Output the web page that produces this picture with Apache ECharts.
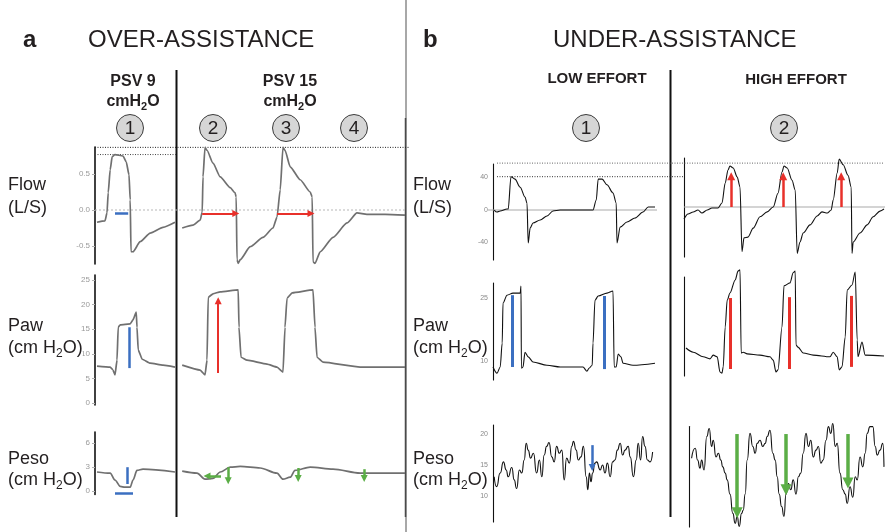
<!DOCTYPE html>
<html>
<head>
<meta charset="utf-8">
<script src="https://cdn.jsdelivr.net/npm/echarts@6/dist/echarts.min.js"></script>
<style>
html, body { margin: 0; padding: 0; background: #fff; }
#chart { width: 887px; height: 532px; }
</style>
</head>
<body>
<div id="chart"></div>
<script>
// ---------- Waveform data: [time (s), value] ----------
// a) Over-assistance, PSV 9 and PSV 15 cmH2O
const overFlowPsv9 = [[0.05,-0.17],[0.25,-0.15],[0.3,-0.04],[0.33,0.24],[0.38,0.56],[0.43,0.74],[0.5,0.77],[0.7,0.75],[0.78,0.67],[0.85,0.49],[0.88,0.14],[0.9,-0.58],[0.95,-0.58],[1.13,-0.44],[1.38,-0.32],[1.7,-0.24],[2.0,-0.17]];
const overFlowPsv15 = [[2.18,-0.25],[2.45,-0.21],[2.63,-0.14],[2.68,-0.03],[2.7,0.46],[2.75,0.87],[2.8,0.83],[2.95,0.65],[3.13,0.46],[3.38,0.31],[3.5,0.24],[3.53,0.18],[3.55,-0.69],[3.58,-0.74],[3.63,-0.69],[3.88,-0.51],[4.2,-0.38],[4.45,-0.25],[4.55,-0.1],[4.63,0.28],[4.7,0.87],[4.75,0.83],[4.88,0.6],[5.13,0.42],[5.38,0.25],[5.43,0.18],[5.45,-0.72],[5.5,-0.74],[5.63,-0.58],[5.95,-0.38],[6.3,-0.18],[6.55,-0.04],[6.8,-0.06],[7.25,-0.06],[7.75,-0.07]];
const overPawPsv9 = [[0.05,7.5],[0.38,7.3],[0.45,6.7],[0.5,5.7],[0.55,8.7],[0.58,15.4],[0.63,15.9],[0.88,16.1],[0.95,16.9],[1.03,18.5],[1.05,15.4],[1.08,10.8],[1.18,8.9],[1.38,8.1],[1.7,7.7],[2.0,7.3]];
const overPawPsv15 = [[2.18,7.7],[2.63,6.7],[2.75,5.7],[2.8,8.7],[2.83,21.5],[2.95,22.2],[3.13,22.6],[3.58,23.0],[3.6,15.4],[3.65,9.3],[3.8,8.7],[4.3,7.9],[4.55,7.3],[4.7,6.3],[4.75,15.4],[4.8,21.3],[4.93,22.4],[5.45,23.0],[5.5,15.4],[5.55,9.3],[5.7,8.3],[6.63,7.3],[7.75,7.3]];
const overPesoPsv9 = [[0.05,2.4],[0.38,2.25],[0.5,1.4],[0.63,0.6],[0.75,0.5],[0.88,0.5],[0.95,1.4],[1.05,2.6],[1.2,2.75],[2.0,2.4]];
const overPesoPsv15 = [[2.18,2.5],[2.55,2.25],[2.75,1.5],[2.95,1.6],[3.13,2.4],[3.38,3.0],[3.63,3.1],[4.13,2.9],[4.55,2.25],[4.7,1.5],[4.88,1.75],[5.0,2.6],[5.38,3.0],[5.95,2.75],[6.63,2.25],[7.75,2.25]];

// b) Under-assistance, low and high inspiratory effort
const lowFlow = [[0.03,0],[0.1,-2.5],[0.18,-1.2],[0.35,1.2],[0.38,1.2],[0.45,41],[0.55,38],[0.68,28],[0.8,16],[0.85,8.6],[0.88,-40.6],[0.93,-22],[1.0,-16],[1.18,-12.3],[1.35,-7.4],[1.5,-1.2],[1.68,0],[2.5,0],[2.58,12],[2.63,38],[2.73,38],[2.85,31],[3.0,21],[3.08,8.6],[3.1,-40.6],[3.18,-21],[3.35,-14.8],[3.55,-9.8],[3.75,-2.5],[3.88,3.7],[4.05,3.7]];
const highFlow = [[0,-14.8],[0.1,-8.6],[0.23,-6.2],[0.35,-3.7],[0.45,-7.4],[0.58,-3.7],[0.7,-1.2],[0.85,-1.2],[0.95,4.9],[1.03,29.5],[1.1,45.5],[1.15,50.5],[1.23,48],[1.33,37],[1.4,24.6],[1.45,-55],[1.5,-38],[1.6,-37],[1.73,-26],[1.9,-12],[2.08,-6],[2.23,0],[2.35,17],[2.45,43],[2.5,50.5],[2.58,48],[2.7,33],[2.78,21],[2.83,-57],[2.9,-43],[2.98,-32],[3.15,-22],[3.33,-11],[3.45,-6],[3.58,-7.4],[3.68,-3.7],[3.73,8.6],[3.83,42],[3.88,59],[3.98,52],[4.1,39],[4.18,24.6],[4.2,-57],[4.23,-43],[4.4,-32],[4.58,-22],[4.73,-12],[4.9,-5],[5.0,-2.5]];
const lowPaw = [[0,8.6],[0.1,7.1],[0.18,8.6],[0.23,14.3],[0.25,23.8],[0.35,25.7],[0.5,26.2],[0.68,26.2],[0.7,27.9],[0.71,8.3],[0.75,8.6],[0.8,12.1],[0.88,11],[1.0,9.8],[1.35,9],[1.68,8.6],[2.25,8.6],[2.35,7.6],[2.4,8.3],[2.48,9],[2.5,14.3],[2.55,24.5],[2.63,25.5],[2.85,26.2],[3.0,26.7],[3.03,8.6],[3.08,8.6],[3.13,11.7],[3.2,11],[3.25,9.5],[3.5,9],[4.05,9.5]];
const highPaw = [[0.05,13.1],[0.23,12.1],[0.48,11],[0.65,10.5],[0.73,11.4],[0.83,11],[0.9,7.4],[0.95,7.1],[0.98,8.6],[1.03,18.1],[1.08,24.5],[1.15,26.2],[1.28,29.3],[1.35,31.4],[1.4,31.7],[1.43,11.9],[1.48,12.1],[1.58,11.7],[1.9,11.4],[2.15,11],[2.23,10.2],[2.3,7.4],[2.35,7.9],[2.45,18.1],[2.5,27.9],[2.65,28.6],[2.73,31],[2.78,31.4],[2.8,13.8],[2.85,13.3],[2.98,11.9],[3.23,11.4],[3.65,11],[3.73,12.1],[3.83,11],[3.88,7.9],[3.95,8.6],[4.03,15.7],[4.08,26.9],[4.2,28.1],[4.28,31.2],[4.33,15],[4.35,11],[4.45,14.5],[4.53,11.4],[5.0,11.2]];
const lowPeso = [[0.03,13.1],[0.09,11.5],[0.18,13.7],[0.26,15.5],[0.33,14.2],[0.38,13.1],[0.47,14.6],[0.53,12.6],[0.59,11.2],[0.66,14.2],[0.72,13.7],[0.78,15.8],[0.83,18.5],[0.88,17.4],[0.94,16.1],[1.01,16.9],[1.09,13.7],[1.16,15.8],[1.22,13.1],[1.28,16.6],[1.34,18.0],[1.4,18.6],[1.47,16.3],[1.53,15.5],[1.59,18.0],[1.66,16.9],[1.72,17.4],[1.78,12.6],[1.84,16.1],[1.91,15.3],[1.97,18.0],[2.01,18.8],[2.08,17.4],[2.13,15.8],[2.2,16.3],[2.26,18.0],[2.33,13.1],[2.37,11.0],[2.41,13.7],[2.45,12.3],[2.49,13.7],[2.55,15.3],[2.59,15.5],[2.68,14.2],[2.74,15.0],[2.8,13.7],[2.86,15.3],[2.93,13.1],[2.99,15.5],[3.05,15.8],[3.11,17.4],[3.18,18.5],[3.24,16.6],[3.3,17.4],[3.38,18.0],[3.43,16.3],[3.51,13.1],[3.58,15.8],[3.63,18.5],[3.69,15.8],[3.74,19.6],[3.8,18.0],[3.86,15.8],[3.93,15.5],[3.99,17.1]];
const highPeso = [[0.19,16.1],[0.28,17.7],[0.34,15.8],[0.4,14.5],[0.44,15.8],[0.5,14.2],[0.57,19.6],[0.63,20.9],[0.69,18.0],[0.73,19.0],[0.8,16.3],[0.86,16.9],[0.92,15.8],[0.97,14.7],[1.03,13.7],[1.08,12.6],[1.15,10.3],[1.22,7.2],[1.28,5.6],[1.33,6.7],[1.38,5.1],[1.44,7.2],[1.48,7.7],[1.53,10.3],[1.58,15.8],[1.65,20.1],[1.72,18.0],[1.78,16.9],[1.83,18.5],[1.9,19.0],[1.97,18.0],[2.03,18.5],[2.08,19.6],[2.15,20.6],[2.22,16.9],[2.28,15.8],[2.33,13.1],[2.38,10.3],[2.44,8.3],[2.5,6.7],[2.55,10.3],[2.61,12.0],[2.67,11.0],[2.73,12.6],[2.8,10.3],[2.86,13.1],[2.92,13.7],[2.98,16.9],[3.05,20.1],[3.11,18.0],[3.17,19.0],[3.23,16.3],[3.3,17.4],[3.36,18.0],[3.42,15.3],[3.48,15.8],[3.55,19.0],[3.61,21.2],[3.67,20.1],[3.72,21.7],[3.78,18.0],[3.83,18.5],[3.9,13.7],[3.97,11.0],[4.03,10.3],[4.08,8.8],[4.15,11.5],[4.22,9.8],[4.28,13.1],[4.33,12.6],[4.4,16.3],[4.47,14.7],[4.53,16.9],[4.58,20.1],[4.65,21.2],[4.72,21.2],[4.78,18.0],[4.83,16.6],[4.9,17.4],[4.97,18.5],[5.0,14.7]];

// ---------- Annotation segments: [t1, v1, t2, v2] ----------
const psv9FlowBar = [[0.5,-0.05,0.83,-0.05]];
const psv15FlowArrows = [[2.68,-0.05,3.52,-0.05],[4.55,-0.05,5.4,-0.05]];
const psv9PawBar = [[0.85,15.4,0.85,7.1]];
const psv15PawArrow = [[3.08,6.1,3.08,20.8]];
const psv9PesoBars = [[0.8,3.0,0.8,0.9],[0.5,-0.25,0.95,-0.25]];
const psv15PesoArrows = [[3.15,1.9,2.8,1.9],[3.33,3.0,3.33,1.3],[5.08,2.9,5.08,1.6],[6.73,2.75,6.73,1.6]];
const lowPawBars = [[0.48,25.7,0.48,8.6],[2.78,25.5,2.78,8.1]];
const lowPesoArrow = [[2.48,18.2,2.48,14.6]];
const highFlowArrows = [[1.18,0,1.18,38],[2.48,0,2.48,38],[3.93,0,3.93,38]];
const highPawBars = [[1.15,25,1.15,8.1],[2.63,25.2,2.63,8.1],[4.18,25.5,4.18,8.6]];
const highPesoArrows = [[1.33,20,1.33,7.3],[2.55,20,2.55,11.0],[4.1,20,4.1,12.1]];

// ---------- Reference levels ----------
const psv15FlowPeak = 0.87;
const psv9FlowPeak = 0.77;
const lowFlowPeak = 41;
const highFlowRef = 54;

// ---------- Axis ticks ----------
const overFlowTicks = [-0.5, 0, 0.5];
const overPawTicks = [0, 5, 10, 15, 20, 25];
const overPesoTicks = [0, 3, 6];
const lowFlowTicks = [-40, 0, 40];
const lowPawTicks = [10, 25];
const lowPesoTicks = [10, 15, 20];

// ---------- Text ----------
const panelLetters = ['a', 'b'];
const panelTitles = ['OVER-ASSISTANCE', 'UNDER-ASSISTANCE'];
const overSettings = ['PSV 9', 'PSV 15'];
const effortLabels = ['LOW EFFORT', 'HIGH EFFORT'];
const rowNames = ['Flow', 'Paw', 'Peso'];
const rowUnits = ['(L/S)', '(cm H{sub|2}O)', '(cm H{sub|2}O)'];

const FONT = '"Liberation Sans", Arial, Helvetica, sans-serif';
const INK = '#231f20';
const TRACE_A = '#707070';
const TRACE_B = '#111111';
const BLUE = '#3b6fc1';
const RED = '#e8302a';
const GREEN = '#5bae46';

const chart = echarts.init(document.getElementById('chart'), null, { renderer: 'canvas' });

// Plot areas: three rows in each of the four segments
const gridSpecs = [
  { left: 95,  top: 147,   width: 312, height: 117,   x: [0, 7.8],     y: [-0.75, 0.875], ticks: overFlowTicks, fmt: v => v.toFixed(1), a: true },
  { left: 95,  top: 275.1, width: 312, height: 129.9, x: [0, 7.8],     y: [-0.4, 26],     ticks: overPawTicks, a: true },
  { left: 95,  top: 432,   width: 312, height: 62.4,  x: [0, 7.8],     y: [-0.4, 7.4],    ticks: overPesoTicks, a: true },
  { left: 493, top: 164,   width: 176, height: 96,    x: [0, 4.4],     y: [-61.5, 56.6],  ticks: lowFlowTicks },
  { left: 493, top: 283,   width: 176, height: 97,    x: [0, 4.4],     y: [5.5, 28.6],    ticks: lowPawTicks },
  { left: 493, top: 425,   width: 176, height: 97,    x: [0, 4.4],     y: [5.8, 21.45],   ticks: lowPesoTicks },
  { left: 684, top: 158,   width: 201, height: 99,    x: [0, 5.025],   y: [-61.5, 60.3] },
  { left: 684, top: 277,   width: 201, height: 99,    x: [0, 5.025],   y: [6.43, 30] },
  { left: 689, top: 426.6, width: 196, height: 100.4, x: [0.125, 5.025], y: [5.0, 21.2] }
];

const grid = gridSpecs.map(g => ({
  left: g.left, top: g.top, width: g.width, height: g.height,
  containLabel: false, outerBoundsMode: 'none', show: false
}));

const xAxis = gridSpecs.map((g, i) => ({
  type: 'value', gridIndex: i, min: g.x[0], max: g.x[1], show: false
}));

const yAxis = gridSpecs.map((g, i) => ({
  type: 'value', gridIndex: i, min: g.y[0], max: g.y[1],
  splitLine: { show: false },
  axisLine: { show: true, onZero: false, lineStyle: { color: '#111', width: g.a ? 1.6 : 1.1 } },
  axisTick: g.ticks && g.a
    ? { show: true, customValues: g.ticks, length: 3, lineStyle: { color: '#b0b0b0', width: 1 } }
    : { show: false },
  axisLabel: g.ticks
    ? {
        show: true, customValues: g.ticks,
        formatter: g.fmt || (v => String(v)),
        fontFamily: FONT, fontSize: g.a ? 8 : 7,
        color: g.a ? '#9a9a9a' : '#8a8a8a',
        margin: 5
      }
    : { show: false }
}));

function marks(segs, color, width, head, headSize) {
  return {
    silent: true, animation: false,
    symbol: head ? ['none', 'triangle'] : ['none', 'none'],
    symbolSize: headSize || 8,
    label: { show: false },
    emphasis: { disabled: true },
    lineStyle: { color, width, type: 'solid', opacity: 1 },
    itemStyle: { color },
    data: segs.map(s => [{ coord: [s[0], s[1]] }, { coord: [s[2], s[3]] }])
  };
}

function trace(data, gi, color, width, smooth, markLine) {
  const s = {
    type: 'line', data, xAxisIndex: gi, yAxisIndex: gi,
    showSymbol: false, symbol: 'none', clip: false,
    smooth, smoothMonotone: 'x',
    lineStyle: { color, width },
    emphasis: { disabled: true },
    silent: true, animation: false, z: 3
  };
  if (markLine) s.markLine = markLine;
  return s;
}

const series = [
  trace(overFlowPsv9, 0, TRACE_A, 1.7, 0.2, marks(psv9FlowBar, BLUE, 2.5, false)),
  trace(overFlowPsv15, 0, TRACE_A, 1.7, 0.2, marks(psv15FlowArrows, RED, 2, true, 7)),
  trace(overPawPsv9, 1, TRACE_A, 1.7, 0.15, marks(psv9PawBar, BLUE, 2.5, false)),
  trace(overPawPsv15, 1, TRACE_A, 1.7, 0.15, marks(psv15PawArrow, RED, 2, true, 7)),
  trace(overPesoPsv9, 2, TRACE_A, 1.7, 0.3, marks(psv9PesoBars, BLUE, 2.5, false)),
  trace(overPesoPsv15, 2, TRACE_A, 1.7, 0.3, marks(psv15PesoArrows, GREEN, 2.5, true, 7)),
  trace(lowFlow, 3, TRACE_B, 1.1, 0.3),
  trace(lowPaw, 4, TRACE_B, 1.1, 0.3, marks(lowPawBars, BLUE, 3, false)),
  trace(lowPeso, 5, TRACE_B, 1.1, 0.6, marks(lowPesoArrow, BLUE, 2.5, true, 7)),
  trace(highFlow, 6, TRACE_B, 1.1, 0.3, marks(highFlowArrows, RED, 2.5, true, 8)),
  trace(highPaw, 7, TRACE_B, 1.1, 0.3, marks(highPawBars, RED, 3, false)),
  trace(highPeso, 8, TRACE_B, 1.1, 0.6, marks(highPesoArrows, GREEN, 3.5, true, 11))
];

chart.setOption({
  animation: false,
  backgroundColor: '#ffffff',
  textStyle: { fontFamily: FONT },
  grid, xAxis, yAxis, series
});

// ---------- Static annotations ----------
function txt(x, y, text, size, opts) {
  opts = opts || {};
  const weight = opts.weight || 'normal';
  const sub = Math.round(size * 0.66);
  const style = {
    x, y, text,
    fill: opts.color || INK,
    fontSize: size, fontWeight: weight, fontFamily: FONT,
    align: opts.align || 'left', verticalAlign: 'middle',
    rich: {
      sub: {
        fontSize: sub, fontWeight: weight, fontFamily: FONT, fill: opts.color || INK,
        verticalAlign: 'top', padding: [Math.round(size * 0.6), 0, 0, 0]
      }
    }
  };
  if (opts.bg) style.backgroundColor = opts.bg;
  return { type: 'text', silent: true, z: 20, style };
}

function seg(x1, y1, x2, y2, stroke, width, dash) {
  return {
    type: 'line', silent: true, z: 1,
    shape: { x1, y1, x2, y2 },
    style: { stroke, lineWidth: width, lineDash: dash || null }
  };
}

function badge(cx, cy, label) {
  return [
    { type: 'circle', silent: true, z: 15, shape: { cx, cy, r: 13.5 }, style: { fill: '#d6d6d6', stroke: '#3c3c3c', lineWidth: 1 } },
    txt(cx, cy + 0.5, label, 19, { align: 'center' })
  ];
}

const yPix = (gi, v) => chart.convertToPixel({ gridIndex: gi }, [gridSpecs[gi].x[0], v])[1];

const graphics = [
  // panel frame lines
  seg(406, 0, 406, 532, '#a8a8a8', 2),
  seg(405.5, 118, 405.5, 517, '#4a4a4a', 1.5),
  seg(176.5, 70, 176.5, 517, '#111', 2),
  seg(670.5, 70, 670.5, 517, '#111', 2),

  // reference levels
  seg(95, yPix(0, psv15FlowPeak), 410, yPix(0, psv15FlowPeak), '#222', 1, [1, 1.5]),
  seg(95, yPix(0, psv9FlowPeak), 176, yPix(0, psv9FlowPeak), '#444', 1, [1, 1.5]),
  seg(95, yPix(0, 0), 407, yPix(0, 0), '#b8b8b8', 1, [2, 2]),
  seg(488, yPix(3, 0), 657, yPix(3, 0), '#a9a9a9', 1),
  seg(684, yPix(6, 0), 885, yPix(6, 0), '#a9a9a9', 1),
  seg(497, yPix(3, lowFlowPeak), 683, yPix(3, lowFlowPeak), '#333', 1, [1, 1.5]),
  seg(497, yPix(6, highFlowRef), 884, yPix(6, highFlowRef), '#666', 1, [1, 1.5]),

  // titles
  txt(23, 40, panelLetters[0], 24, { weight: 'bold' }),
  txt(88, 40, panelTitles[0], 24),
  txt(423, 40, panelLetters[1], 24, { weight: 'bold' }),
  txt(553, 40, panelTitles[1], 24),

  // pressure support settings
  txt(133, 82, overSettings[0], 16, { weight: 'bold', align: 'center' }),
  txt(133, 102, 'cmH{sub|2}O', 16, { weight: 'bold', align: 'center' }),
  txt(290, 82, overSettings[1], 16, { weight: 'bold', align: 'center' }),
  txt(290, 102, 'cmH{sub|2}O', 16, { weight: 'bold', align: 'center' }),

  // effort headings
  txt(597, 79, effortLabels[0], 15, { weight: 'bold', align: 'center' }),
  txt(796, 80, effortLabels[1], 15, { weight: 'bold', align: 'center' })
];

// numbered breaths
[[130, '1'], [213, '2'], [286, '3'], [354, '4']].forEach(([cx, l]) => graphics.push(...badge(cx, 128, l)));
[[586, '1'], [784, '2']].forEach(([cx, l]) => graphics.push(...badge(cx, 128, l)));

// row labels for both panels; panel a labels sit on a white backing over the tick column
const rowY = [[185, 208], [326, 348], [459, 480]];
[[8, '#ffffff'], [413, null]].forEach(([x, bg]) => {
  rowNames.forEach((name, i) => {
    graphics.push(txt(x, rowY[i][0], name, 18, { bg }));
    graphics.push(txt(x, rowY[i][1], rowUnits[i], 18, { bg }));
  });
});

chart.setOption({ graphic: graphics });
</script>
</body>
</html>
